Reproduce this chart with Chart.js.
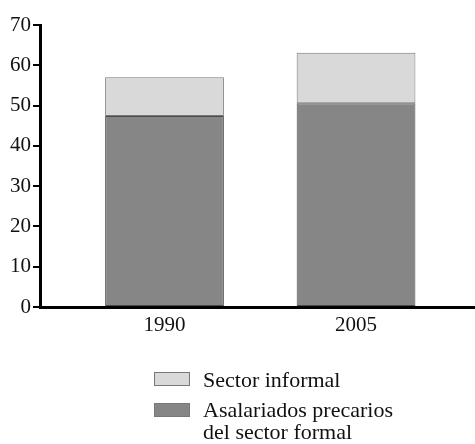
<!DOCTYPE html>
<html>
<head>
<meta charset="utf-8">
<script src="https://cdn.jsdelivr.net/npm/chart.js@4"></script>
<style>
  body { margin: 0; background: #fff; }
  #wrap { position: relative; width: 475px; height: 444px; }
  #chart { position: absolute; left: 0; top: 0; }
  .legend-item { position: absolute; left: 154px; font-family: "Liberation Serif", serif; font-size: 22px; line-height: 22px; color: #111; }
  .legend-box { position: absolute; width: 34px; height: 12px; border: 1px solid #777; }
  .legend-text { position: absolute; left: 49px; top: 0; white-space: nowrap; }
</style>
</head>
<body>
<div id="wrap">
  <canvas id="chart" width="475" height="444"></canvas>
  <div class="legend-item" style="top:369px">
    <div class="legend-box" style="top:3px;background:#d9d9d9"></div>
    <div class="legend-text">Sector informal</div>
  </div>
  <div class="legend-item" style="top:399px">
    <div class="legend-box" style="top:4px;background:#868686"></div>
    <div class="legend-text">Asalariados precarios<br>del sector formal</div>
  </div>
</div>
<script>
const categories = ['1990', '2005'];
const asalariadosPrecarios = [47.4, 50.6];
const sectorInformal = [9.6, 12.5];
const yTicks = [0, 10, 20, 30, 40, 50, 60, 70];

document.addEventListener("DOMContentLoaded", () => {
    const ctx = document.getElementById('chart').getContext('2d');
    const serif = { family: '"Liberation Serif", serif', size: 21 };

    new Chart(ctx, {
        type: 'bar',
        data: {
            datasets: [{
                label: 'Asalariados precarios del sector formal',
                data: asalariadosPrecarios.map((v, i) => ({ x: i, y: v })),
                backgroundColor: '#868686',
                borderColor: '#4a4a4a',
                borderWidth: 1,
                borderSkipped: false
            }, {
                label: 'Sector informal',
                data: sectorInformal.map((v, i) => ({ x: i, y: v })),
                backgroundColor: '#d9d9d9',
                borderColor: '#777',
                borderWidth: 1,
                borderSkipped: false
            }]
        },
        options: {
            responsive: false,
            animation: false,
            barPercentage: 1,
            categoryPercentage: 0.62,
            layout: { padding: { top: 25, right: 0, bottom: 0, left: 0 } },
            plugins: {
                legend: { display: false },
                tooltip: { enabled: false }
            },
            scales: {
                x: {
                    type: 'linear',
                    stacked: true,
                    offset: false,
                    min: -0.65,
                    max: 1.621,
                    afterBuildTicks: scale => {
                        scale.ticks = categories.map((c, i) => ({ value: i }));
                    },
                    afterFit: scale => { scale.height = 137; },
                    grid: { display: false, drawTicks: false },
                    border: { display: true, color: '#000', width: 3 },
                    ticks: {
                        padding: 6,
                        color: '#111',
                        font: serif,
                        callback: v => categories[v]
                    }
                },
                y: {
                    stacked: true,
                    min: 0,
                    max: 70,
                    afterBuildTicks: scale => {
                        scale.ticks = yTicks.map(v => ({ value: v }));
                    },
                    afterFit: scale => { scale.width = 40; },
                    grid: { drawOnChartArea: false, drawTicks: true, tickLength: 7, color: '#000', lineWidth: 2 },
                    border: { display: true, color: '#000', width: 3 },
                    ticks: { padding: 2, color: '#111', font: serif }
                }
            }
        }
    });
});
</script>
</body>
</html>
